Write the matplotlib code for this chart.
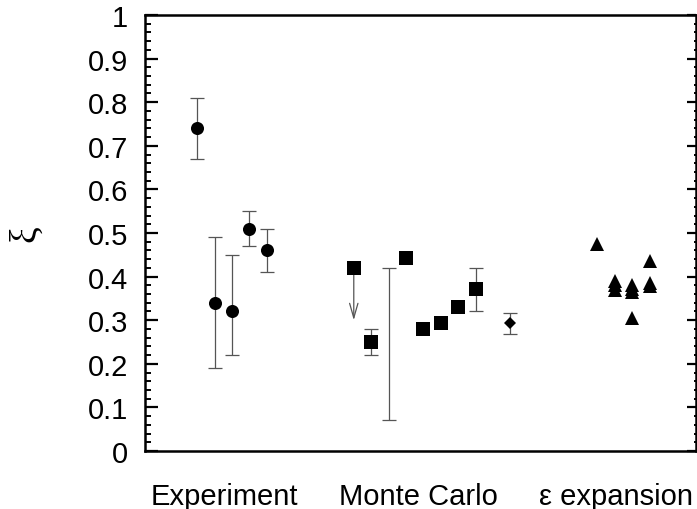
import matplotlib
matplotlib.use('Agg')
import matplotlib.pyplot as plt
from matplotlib.ticker import MultipleLocator

# experiment
exp_x = [3, 4, 5, 6, 7]
exp_y = [0.74, 0.34, 0.32, 0.51, 0.46]
exp_lo = [0.07, 0.15, 0.10, 0.04, 0.05]
exp_hi = [0.07, 0.15, 0.13, 0.04, 0.05]

# monte carlo squares
mc_x = [12, 13, 15, 16, 17, 18, 19]
mc_y = [0.42, 0.25, 0.442, 0.28, 0.294, 0.33, 0.372]
mc_lo = [0, 0.03, 0, 0, 0, 0, 0.05]
mc_hi = [0, 0.03, 0, 0, 0, 0, 0.048]
# upper bound (arrow) and a bare range bar
bound_x, bound_from, bound_to = 12, 0.42, 0.30
range_x = [14]
range_lo = [0.07]
range_hi = [0.42]
# diamond
dia_x = [21]
dia_y = [0.293]
dia_err = [0.024]

# epsilon expansion
eps_x = [26, 27, 27, 27, 28, 28, 28, 28, 29, 29, 29]
eps_y = [0.475, 0.39, 0.38, 0.37, 0.38, 0.372, 0.364, 0.304, 0.436, 0.385, 0.378]

groups = ['Experiment', 'Monte Carlo', 'ε expansion']
group_pos = [4.58, 15.69, 27.07]

plt.rcParams['font.family'] = ['Liberation Sans', 'DejaVu Sans']

fig = plt.figure(figsize=(6.97, 5.10), dpi=100)
ax = fig.add_axes([145 / 697, 58 / 510, 551 / 697, 436 / 510])

ebar = dict(fmt='none', ecolor='#555555', elinewidth=0.9, capsize=4.7, capthick=0.9)

# error bars (only where there is one)
ex = [x for x, a in zip(mc_x, mc_lo) if a > 0]
ey = [y for y, a in zip(mc_y, mc_lo) if a > 0]
el = [a for a in mc_lo if a > 0]
eh = [b for b in mc_hi if b > 0]
ax.errorbar(exp_x, exp_y, yerr=[exp_lo, exp_hi], **ebar)
ax.errorbar(ex, ey, yerr=[el, eh], **ebar)
rc = [(a + b) / 2 for a, b in zip(range_lo, range_hi)]
rh = [(b - a) / 2 for a, b in zip(range_lo, range_hi)]
ax.errorbar(range_x, rc, yerr=rh, **ebar)
ax.errorbar(dia_x, dia_y, yerr=dia_err, **ebar)
ax.annotate('', xy=(bound_x, bound_to), xytext=(bound_x, bound_from),
            arrowprops=dict(arrowstyle='->,head_length=1.05,head_width=0.3',
                            color='#555555', lw=0.9, mutation_scale=10,
                            shrinkA=0, shrinkB=0), zorder=1)

# markers
ax.plot(exp_x, exp_y, 'o', color='black', ms=9.4, mew=0, zorder=3)
ax.plot(mc_x, mc_y, 's', color='black', ms=9.6, mew=0, zorder=3)
ax.plot(dia_x, dia_y, 'D', color='black', ms=6.2, mew=0, zorder=3)
ax.plot(eps_x, eps_y, '^', color='black', ms=9.8, mew=0, zorder=3)

ax.set_xlim(0, 31.67)
ax.set_ylim(0, 1)
ax.set_xticks(group_pos)
ax.set_xticklabels(groups, fontsize=21)
ax.tick_params(axis='x', length=0, pad=22)

ax.yaxis.set_major_locator(MultipleLocator(0.1))
ax.yaxis.set_minor_locator(MultipleLocator(0.02))
ax.set_yticks([i / 10 for i in range(11)])
ax.set_yticklabels(['0'] + ['0.%d' % i for i in range(1, 10)] + ['1'])
ax.tick_params(axis='y', which='major', direction='in', length=9, width=1.6,
               labelsize=21, pad=12)
ax.tick_params(axis='y', which='minor', direction='in', length=4.5, width=1.4)

for s in ax.spines.values():
    s.set_linewidth(1.8)

# right side ticks are shorter
ax2 = ax.twinx()
ax2.set_ylim(0, 1)
ax2.yaxis.set_major_locator(MultipleLocator(0.1))
ax2.yaxis.set_minor_locator(MultipleLocator(0.02))
ax2.tick_params(axis='y', which='major', direction='in', length=6.5, width=1.6,
                labelright=False)
ax2.tick_params(axis='y', which='minor', direction='in', length=1.5, width=1.4)
for s in ax2.spines.values():
    s.set_visible(False)

ax.set_ylabel('ξ', family=['Liberation Serif', 'DejaVu Serif'], fontsize=27)
ax.yaxis.set_label_coords(-0.185, 0.5)

fig.savefig('out.png', dpi=100)
